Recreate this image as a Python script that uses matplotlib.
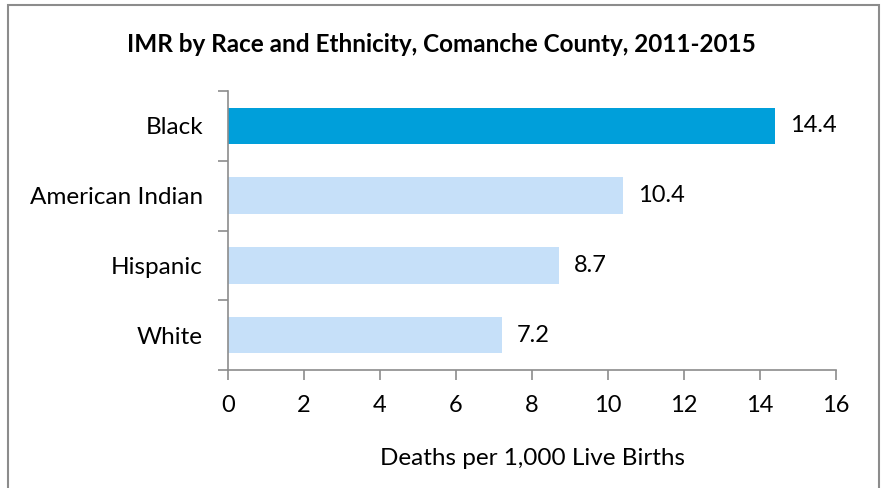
import matplotlib
matplotlib.use("Agg")
import matplotlib.pyplot as plt
from matplotlib.patches import Rectangle

categories = ["White", "Hispanic", "American Indian", "Black"]
values = [7.2, 8.7, 10.4, 14.4]
colors = ["#C6E0F9", "#C6E0F9", "#C6E0F9", "#009FDA"]
xticks = [0, 2, 4, 6, 8, 10, 12, 14, 16]

plt.rcParams["font.family"] = ["Lato", "DejaVu Sans"]
AXIS_GRAY = "#8C8C8C"

fig = plt.figure(figsize=(8.82, 4.88), dpi=100)
ax = fig.add_axes([228 / 882, 1 - 370 / 488, (836 - 228) / 882, (370 - 91) / 488])

# outer chart border
fig.patches.append(Rectangle((8 / 882, -0.05), (879 - 8) / 882, 1 - 5 / 488 + 0.05,
                             transform=fig.transFigure, fill=False,
                             edgecolor=AXIS_GRAY, linewidth=1.5))

y = list(range(len(categories)))
ax.barh(y, values, height=0.52, color=colors)
for yi, v in zip(y, values):
    ax.text(v + 0.4, yi, f"{v:.1f}", va="center", ha="left", fontsize=17)

ax.set_xlim(0, 16)
ax.set_ylim(-0.5, len(categories) - 0.5)
ax.set_xticks(xticks)
ax.set_xticklabels([str(t) for t in xticks], fontsize=17)
ax.set_yticks(y)
ax.set_yticklabels(categories, fontsize=17.5)
ax.set_yticks([i - 0.5 for i in range(len(categories) + 1)], minor=True)
ax.tick_params(axis="y", which="major", length=0, pad=18)
ax.tick_params(axis="y", which="minor", length=7, color=AXIS_GRAY, width=1.2)
ax.tick_params(axis="x", length=7, color=AXIS_GRAY, width=1.2, pad=11)

for side in ["top", "right"]:
    ax.spines[side].set_visible(False)
for side in ["left", "bottom"]:
    ax.spines[side].set_color(AXIS_GRAY)
    ax.spines[side].set_linewidth(1.2)

ax.set_xlabel("Deaths per 1,000 Live Births", fontsize=17.5, labelpad=23)
fig.text(0.5, 1 - 45 / 488, "IMR by Race and Ethnicity, Comanche County, 2011-2015",
         ha="center", va="center", fontsize=17.5, fontweight="bold")

fig.savefig("out.png", dpi=100)
